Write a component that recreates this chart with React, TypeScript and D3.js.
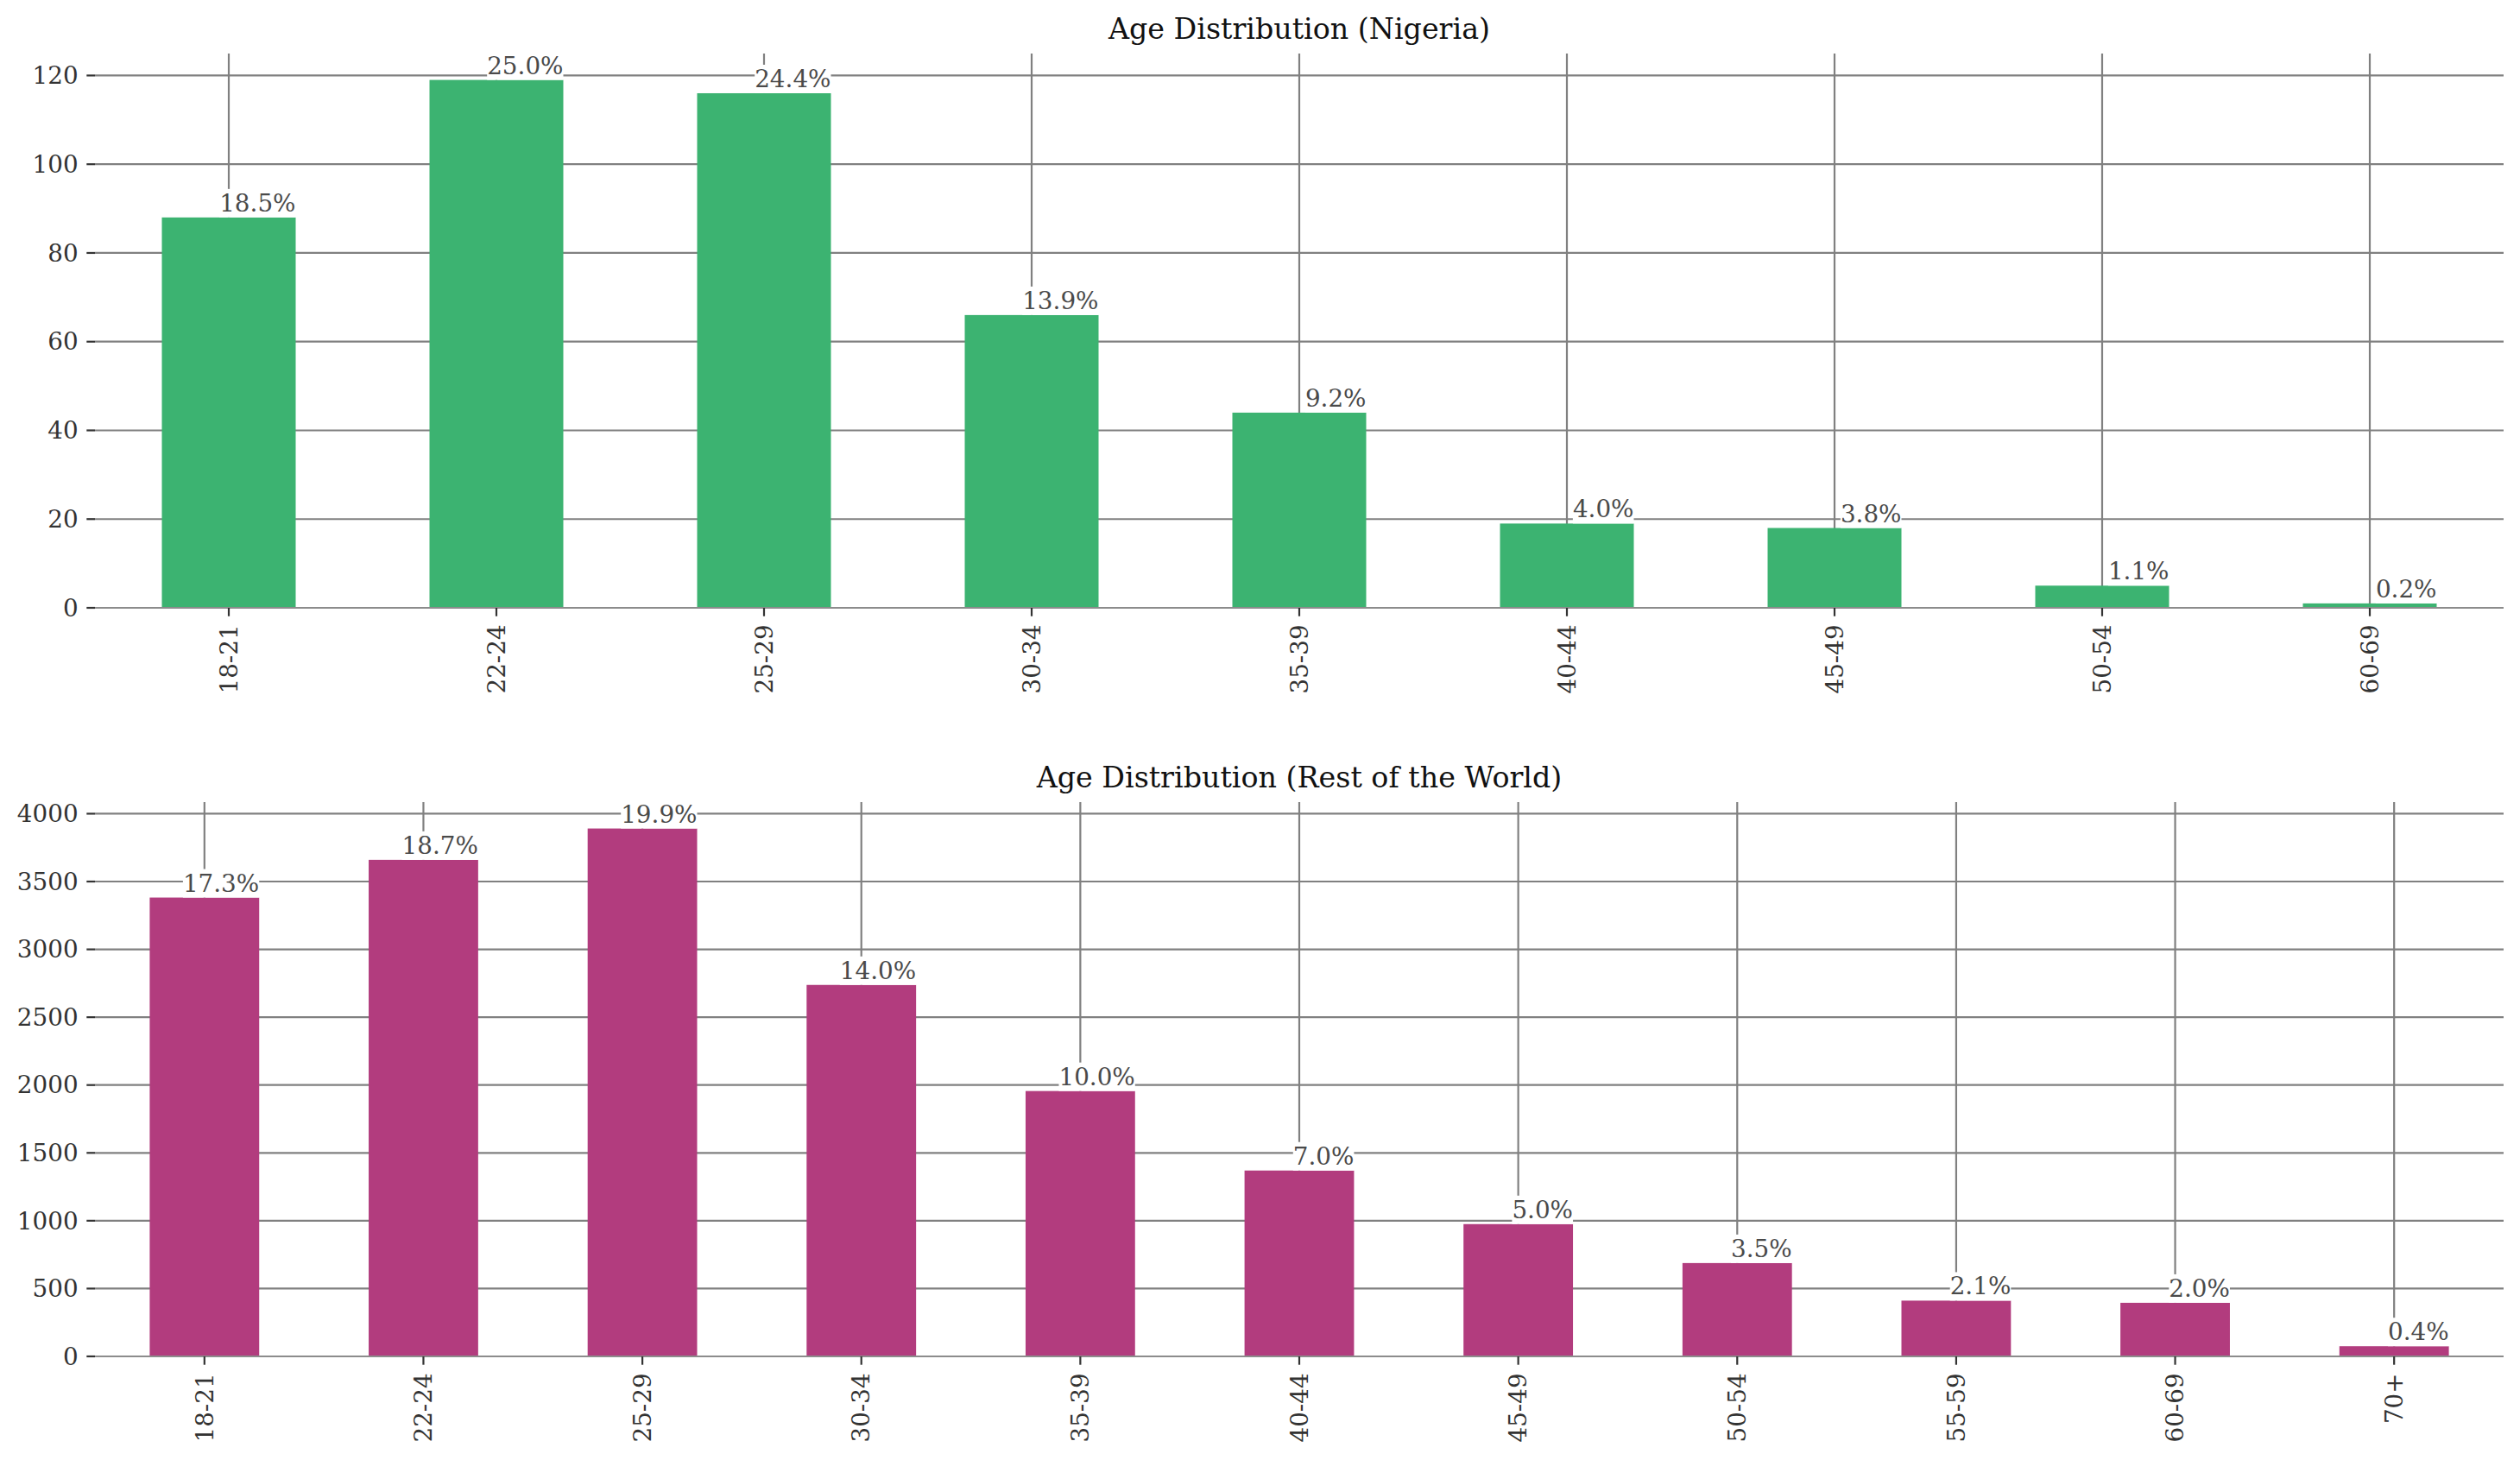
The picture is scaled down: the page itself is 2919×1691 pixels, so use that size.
import React, { useEffect, useRef } from "react";
import * as d3 from "d3";

const categoriesNigeria = ["18-21", "22-24", "25-29", "30-34", "35-39", "40-44", "45-49", "50-54", "60-69"];
const valuesNigeria = [88, 119, 116, 66, 44, 19, 18, 5, 1];
const ticksNigeria = [0, 20, 40, 60, 80, 100, 120];

const categoriesWorld = ["18-21", "22-24", "25-29", "30-34", "35-39", "40-44", "45-49", "50-54", "55-59", "60-69", "70+"];
const valuesWorld = [3382, 3660, 3891, 2738, 1956, 1370, 975, 688, 411, 395, 75];
const ticksWorld = [0, 500, 1000, 1500, 2000, 2500, 3000, 3500, 4000];

const titleNigeria = "Age Distribution (Nigeria)";
const titleWorld = "Age Distribution (Rest of the World)";

const W = 2919;
const H = 1691;
const FONT = "'DejaVu Serif', serif";
const FS = 27.8;

type Panel = {
  title: string;
  cats: string[];
  vals: number[];
  ticks: number[];
  color: string;
  top: number;
  bottom: number;
};

function drawPanel(svg: d3.Selection<SVGSVGElement, unknown, null, undefined>, p: Panel) {
  const left = 110;
  const right = 2900;
  const g = svg.append("g");
  const x = d3.scaleBand<string>().domain(p.cats).range([left, right]).paddingInner(0.5).paddingOuter(0.25);
  const ymax = (d3.max(p.vals) as number) * 1.05;
  const y = d3.scaleLinear().domain([0, ymax]).range([p.bottom, p.top]);
  const total = d3.sum(p.vals);

  // horizontal grid
  g.selectAll(".hg")
    .data(p.ticks)
    .join("line")
    .attr("x1", left)
    .attr("x2", right)
    .attr("y1", (d) => y(d))
    .attr("y2", (d) => y(d))
    .attr("stroke", "#808080")
    .attr("stroke-width", 2.2);
  // vertical grid
  g.selectAll(".vg")
    .data(p.cats)
    .join("line")
    .attr("x1", (d) => (x(d) as number) + x.bandwidth() / 2)
    .attr("x2", (d) => (x(d) as number) + x.bandwidth() / 2)
    .attr("y1", p.top)
    .attr("y2", p.bottom)
    .attr("stroke", "#808080")
    .attr("stroke-width", 2.2);

  // bars
  g.selectAll(".bar")
    .data(p.vals)
    .join("rect")
    .attr("x", (_d, i) => x(p.cats[i]) as number)
    .attr("width", x.bandwidth())
    .attr("y", (d) => y(d))
    .attr("height", (d) => p.bottom - y(d))
    .attr("fill", p.color);

  // annotations
  p.vals.forEach((v, i) => {
    const ag = g.append("g");
    const rect = ag.append("rect").attr("fill", "white");
    const t = ag
      .append("text")
      .attr("x", (x(p.cats[i]) as number) + x.bandwidth())
      .attr("y", y(v) - 7)
      .attr("text-anchor", "end")
      .attr("font-family", FONT)
      .attr("font-size", FS)
      .attr("fill", "#4a4a4a")
      .text(((v / total) * 100).toFixed(1) + "%");
    const bb = (t.node() as SVGTextElement).getBBox();
    rect.attr("x", bb.x).attr("y", bb.y).attr("width", bb.width).attr("height", Math.max(0, y(v) - bb.y));
  });

  // bottom spine
  g.append("line")
    .attr("x1", left)
    .attr("x2", right)
    .attr("y1", p.bottom)
    .attr("y2", p.bottom)
    .attr("stroke", "#8c8c8c")
    .attr("stroke-width", 2);

  // y ticks
  const yt = g.selectAll(".yt").data(p.ticks).join("g");
  yt.append("line")
    .attr("x1", left - 9.7)
    .attr("x2", left)
    .attr("y1", (d) => y(d))
    .attr("y2", (d) => y(d))
    .attr("stroke", "#333")
    .attr("stroke-width", 2.2);
  yt.append("text")
    .attr("x", left - 19.4)
    .attr("y", (d) => y(d))
    .attr("dy", "0.35em")
    .attr("text-anchor", "end")
    .attr("font-family", FONT)
    .attr("font-size", FS)
    .attr("fill", "#333")
    .text((d) => String(d));

  // x ticks
  const xt = g.selectAll(".xt").data(p.cats).join("g");
  xt.append("line")
    .attr("x1", (d) => (x(d) as number) + x.bandwidth() / 2)
    .attr("x2", (d) => (x(d) as number) + x.bandwidth() / 2)
    .attr("y1", p.bottom)
    .attr("y2", p.bottom + 9.7)
    .attr("stroke", "#333")
    .attr("stroke-width", 2.2);
  xt.append("text")
    .attr(
      "transform",
      (d) => `translate(${(x(d) as number) + x.bandwidth() / 2},${p.bottom + 19.4}) rotate(-90)`
    )
    .attr("dy", "0.35em")
    .attr("text-anchor", "end")
    .attr("font-family", FONT)
    .attr("font-size", FS)
    .attr("fill", "#333")
    .text((d) => d);

  // title
  g.append("text")
    .attr("x", (left + right) / 2)
    .attr("y", p.top - 16.7)
    .attr("text-anchor", "middle")
    .attr("font-family", FONT)
    .attr("font-size", 33.3)
    .attr("fill", "#111")
    .text(p.title);
}

export default function App() {
  const ref = useRef<SVGSVGElement>(null);
  useEffect(() => {
    document.body.style.margin = "0";
    const svg = d3.select(ref.current as SVGSVGElement);
    svg.selectAll("*").remove();
    svg.append("rect").attr("width", W).attr("height", H).attr("fill", "white");
    drawPanel(svg, {
      title: titleNigeria,
      cats: categoriesNigeria,
      vals: valuesNigeria,
      ticks: ticksNigeria,
      color: "#3cb371",
      top: 62,
      bottom: 704,
    });
    drawPanel(svg, {
      title: titleWorld,
      cats: categoriesWorld,
      vals: valuesWorld,
      ticks: ticksWorld,
      color: "#b23c7e",
      top: 929,
      bottom: 1571,
    });
  }, []);
  return <svg ref={ref} width={W} height={H} style={{ display: "block" }} />;
}
